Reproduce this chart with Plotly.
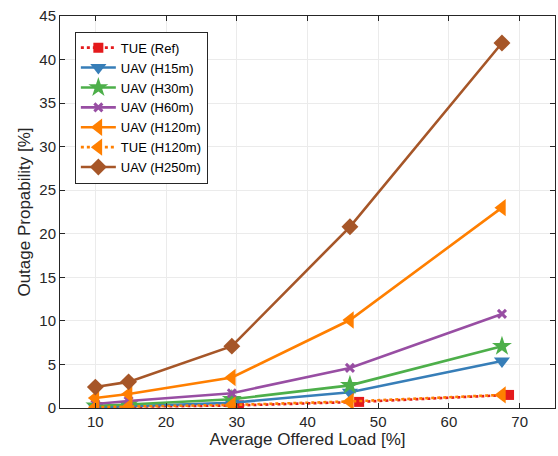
import plotly.graph_objects as go

load_x = [10, 14.7, 29.3, 46.0, 67.5]
ref_x = [10.3, 15.0, 30.3, 47.3, 68.5]

tue_ref = [0.1, 0.15, 0.3, 0.7, 1.5]
uav_h15 = [0.1, 0.2, 0.6, 1.8, 5.4]
uav_h30 = [0.25, 0.4, 1.0, 2.6, 7.1]
uav_h60 = [0.45, 0.8, 1.7, 4.6, 10.8]
uav_h120 = [1.15, 1.6, 3.5, 10.1, 23.0]
tue_h120 = [0.1, 0.15, 0.35, 0.75, 1.5]
uav_h250 = [2.4, 3.0, 7.1, 20.8, 41.9]

x_ticks = [10, 20, 30, 40, 50, 60, 70]
y_ticks = [0, 5, 10, 15, 20, 25, 30, 35, 40, 45]

series = [
    ("TUE (Ref)", ref_x, tue_ref, "#e41a1c", "dot", "square", 10),
    ("UAV (H15m)", load_x, uav_h15, "#377eb8", "solid", "triangle-down", 14),
    ("UAV (H30m)", load_x, uav_h30, "#4daf4a", "solid", "star", 15),
    ("UAV (H60m)", load_x, uav_h60, "#984ea3", "solid", "x-thin", 8),
    ("UAV (H120m)", load_x, uav_h120, "#ff7f00", "solid", "triangle-left", 15),
    ("TUE (H120m)", load_x, tue_h120, "#ff7f00", "dot", "triangle-left", 15),
    ("UAV (H250m)", load_x, uav_h250, "#a65628", "solid", "diamond", 13),
]

fig = go.Figure()
for name, xs, ys, color, dash, sym, size in series:
    marker = dict(symbol=sym, size=size, color=color)
    if sym == "x-thin":
        marker["line"] = dict(color=color, width=3)
    else:
        marker["line"] = dict(width=0)
    fig.add_trace(go.Scatter(
        x=xs, y=ys, name=name, mode="lines+markers",
        line=dict(color=color, width=2.6, dash=dash),
        marker=marker,
    ))

axis_common = dict(
    showline=True, linecolor="#262626", linewidth=1, mirror="ticks",
    ticks="inside", ticklen=5, tickcolor="#262626",
    showgrid=True, gridcolor="#ebebeb", gridwidth=1,
    zeroline=False, automargin=False,
    tickfont=dict(family="Liberation Sans, Arial", size=15, color="#262626"),
    title_font=dict(family="Liberation Sans, Arial", size=17, color="#262626"),
)

fig.update_xaxes(range=[5, 75], tickvals=x_ticks, title_text="Average Offered Load [%]",
                 title_standoff=2, **axis_common)
fig.update_yaxes(range=[0, 45], tickvals=y_ticks, title_text="Outage Propability [%]",
                 title_standoff=4, **axis_common)

fig.update_layout(
    width=558, height=456,
    margin=dict(l=60, r=3, t=16, b=48, autoexpand=False),
    plot_bgcolor="white", paper_bgcolor="white",
    font=dict(family="Liberation Sans, Arial", color="#262626"),
    legend=dict(
        x=0.03, y=0.96, xanchor="left", yanchor="top",
        bgcolor="white", bordercolor="#262626", borderwidth=1,
        font=dict(family="Liberation Sans, Arial", size=13, color="#000000"),
        tracegroupgap=0, itemwidth=35,
    ),
)

fig.write_html("out.html", config={"displayModeBar": False},
               post_script="document.body.style.margin='0';")
